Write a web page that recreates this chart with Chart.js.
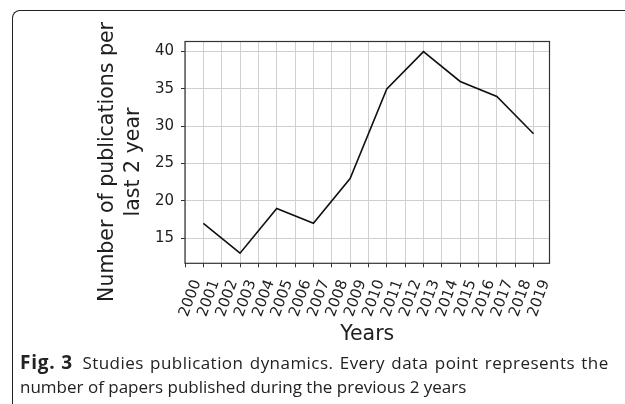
<!DOCTYPE html>
<html>
<head>
<meta charset="utf-8">
<script src="https://cdn.jsdelivr.net/npm/chart.js@4/dist/chart.umd.min.js"></script>
<style>
    html, body { margin: 0; padding: 0; background: #fff; }
    body { width: 625px; height: 404px; position: relative; overflow: hidden; }
    #frame {
        position: absolute; left: 12px; top: 10px; width: 700px; height: 500px;
        border-top: 1px solid #222; border-left: 1px solid #222;
        border-top-left-radius: 8px;
    }
    #chartBox { position: absolute; left: 0; top: 0; width: 625px; height: 350px; }
    #caption {
        position: absolute; left: 20px; top: 350px; width: 605px;
        font-family: "Open Sans", sans-serif; font-size: 17px; line-height: 24px; color: #222;
        white-space: nowrap;
    }
    #caption b { font-weight: 700; font-size: 19px; letter-spacing: 0.8px; margin-right: 5px; }
    #caption .l1 { word-spacing: 1.5px; letter-spacing: 0.45px; }
</style>
</head>
<body>
<div id="frame"></div>
<div id="chartBox"><canvas id="pubChart" width="625" height="350"></canvas></div>
<div id="caption">
    <b>Fig. 3</b> <span class="l1">Studies publication dynamics. Every data point represents the</span><br>
    number of papers published during the previous 2 years
</div>

<script>
// Data (every 2nd year, papers in the last 2 years)
const years = [2001, 2003, 2005, 2007, 2009, 2011, 2013, 2015, 2017, 2019];
const publications = [17, 13, 19, 17, 23, 35, 40, 36, 34, 29];

// Tick labels
const xTickYears = [2000, 2001, 2002, 2003, 2004, 2005, 2006, 2007, 2008, 2009,
                    2010, 2011, 2012, 2013, 2014, 2015, 2016, 2017, 2018, 2019];
const yTickValues = [15, 20, 25, 30, 35, 40];

const yTitleLines = ['Number of publications per', 'last 2 year'];

const INK = '#1e1e1e';
const GRID = '#d0d0d0';

// Black frame round the plot area (top + right sides too)
const plotFrame = {
    id: 'plotFrame',
    afterDatasetsDraw(chart) {
        const { ctx, chartArea: a } = chart;
        ctx.save();
        ctx.strokeStyle = '#333';
        ctx.lineWidth = 1.2;
        ctx.strokeRect(a.left, a.top, a.right - a.left, a.bottom - a.top);
        ctx.restore();
    }
};

// Two line rotated y title, centred like the original figure
const yTitle = {
    id: 'yTitle',
    afterDraw(chart) {
        const ctx = chart.ctx;
        ctx.save();
        ctx.fillStyle = INK;
        ctx.font = '20.5px "DejaVu Sans"';
        ctx.textAlign = 'center';
        ctx.textBaseline = 'alphabetic';
        const baselines = [112.5, 138.5];
        yTitleLines.forEach((line, i) => {
            ctx.save();
            ctx.translate(baselines[i], 162);
            ctx.rotate(-Math.PI / 2);
            ctx.fillText(line, 0, 0);
            ctx.restore();
        });
        ctx.restore();
    }
};

document.addEventListener('DOMContentLoaded', () => {
    const ctx = document.getElementById('pubChart').getContext('2d');

    new Chart(ctx, {
        type: 'line',
        data: {
            datasets: [{
                data: years.map((y, i) => ({ x: y, y: publications[i] })),
                borderColor: '#111',
                borderWidth: 1.6,
                pointRadius: 0,
                tension: 0,
                fill: false
            }]
        },
        options: {
            responsive: false,
            animation: false,
            layout: { padding: { top: 41.5, right: 75.5, left: 0, bottom: 0 } },
            plugins: { legend: { display: false }, tooltip: { enabled: false } },
            scales: {
                x: {
                    type: 'linear',
                    min: 2000,
                    max: 2019.87,
                    afterBuildTicks: scale => { scale.ticks = xTickYears.map(v => ({ value: v })); },
                    afterFit: scale => { scale.height = 86.7; },
                    grid: { color: GRID, lineWidth: 1, tickLength: 4, tickColor: '#333', drawTicks: true },
                    border: { display: false },
                    ticks: {
                        autoSkip: false,
                        minRotation: 70,
                        maxRotation: 70,
                        labelOffset: 12,
                        padding: 10,
                        color: INK,
                        font: { family: '"DejaVu Sans"', size: 15 },
                        callback: value => String(value)
                    },
                    title: {
                        display: true,
                        text: 'Years',
                        color: INK,
                        font: { family: '"DejaVu Sans"', size: 20.5 },
                        padding: { top: 0, bottom: 3 }
                    }
                },
                y: {
                    min: 11.65,
                    max: 41.35,
                    afterBuildTicks: scale => { scale.ticks = yTickValues.map(v => ({ value: v })); },
                    afterFit: scale => { scale.width = 185; },
                    grid: { color: GRID, lineWidth: 1, tickLength: 4, tickColor: '#333' },
                    border: { display: false },
                    ticks: {
                        padding: 7,
                        color: INK,
                        font: { family: '"DejaVu Sans"', size: 15 }
                    }
                }
            }
        },
        plugins: [plotFrame, yTitle]
    });
});
</script>
</body>
</html>
